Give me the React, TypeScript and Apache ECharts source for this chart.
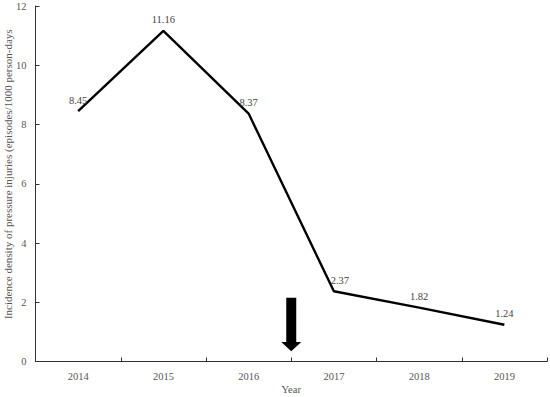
import React, { useEffect, useRef } from "react";
import * as echarts from "echarts";

const years = ["2014", "2015", "2016", "2017", "2018", "2019"];
const incidence = [8.45, 11.16, 8.37, 2.37, 1.82, 1.24];
const yTicks = [0, 2, 4, 6, 8, 10, 12];
const arrowBetween = ["2016", "2017"];

const FONT = "'Liberation Serif', 'DejaVu Serif', serif";

export default function App() {
  const ref = useRef<HTMLDivElement>(null);
  useEffect(() => {
    if (!ref.current) return;
    const chart = echarts.init(ref.current, undefined, { renderer: "svg" });
    const axisColor = "#333";
    chart.setOption({
      animation: false,
      backgroundColor: "#fff",
      textStyle: { fontFamily: FONT },
      grid: {
        left: 35.5,
        right: 3,
        top: 6,
        bottom: 35.5,
        containLabel: false,
        outerBoundsMode: "none",
      },
      xAxis: {
        type: "category",
        data: years,
        boundaryGap: true,
        name: "Year",
        nameLocation: "middle",
        nameGap: 22,
        nameMoveOverlap: false,
        nameTextStyle: { fontFamily: FONT, fontSize: 10.5, color: "#555" },
        axisLine: { lineStyle: { color: axisColor, width: 1.2 } },
        axisTick: { show: true, inside: true, length: 4, alignWithLabel: false, lineStyle: { color: axisColor } },
        axisLabel: { fontFamily: FONT, fontSize: 10.5, color: "#555", margin: 9 },
        splitLine: { show: false },
      },
      yAxis: {
        type: "value",
        min: yTicks[0],
        max: yTicks[yTicks.length - 1],
        interval: 2,
        name: "Incidence density of pressure injuries (episodes/1000 person-days",
        nameLocation: "middle",
        nameGap: 22.5,
        nameMoveOverlap: false,
        nameTextStyle: { fontFamily: FONT, fontSize: 11, color: "#555", padding: [0, 0, 0, 19] },
        axisLine: { show: true, lineStyle: { color: axisColor, width: 1 } },
        axisTick: { show: true, inside: true, length: 4, lineStyle: { color: axisColor } },
        axisLabel: { fontFamily: FONT, fontSize: 10.5, color: "#555", margin: 9 },
        splitLine: { show: false },
      },
      series: [
        {
          type: "line",
          data: incidence.map((v, i) =>
            i === 3 ? { value: v, label: { offset: [6, 0] } } : { value: v }
          ),
          symbol: "circle",
          symbolSize: 1,
          showSymbol: true,
          itemStyle: { color: "rgba(0,0,0,0)" },
          lineStyle: { color: "#000", width: 2.4 },
          label: {
            show: true,
            position: "top",
            distance: 5,
            fontFamily: FONT,
            fontSize: 10.5,
            color: "#444",
            formatter: (p: any) => Number(p.value).toFixed(2),
          },
        },
      ],
    });

    const a = chart.convertToPixel({ xAxisIndex: 0 }, arrowBetween[0]) as number;
    const b = chart.convertToPixel({ xAxisIndex: 0 }, arrowBetween[1]) as number;
    const cx = (a + b) / 2;
    const yTop = chart.convertToPixel({ yAxisIndex: 0 }, 2.15) as number;
    const yHeadStart = chart.convertToPixel({ yAxisIndex: 0 }, 0.66) as number;
    const yTip = chart.convertToPixel({ yAxisIndex: 0 }, 0.35) as number;
    chart.setOption({
      graphic: [
        {
          type: "polygon",
          shape: {
            points: [
              [cx - 5, yTop],
              [cx + 5, yTop],
              [cx + 5, yHeadStart],
              [cx + 10, yHeadStart],
              [cx, yTip],
              [cx - 10, yHeadStart],
              [cx - 5, yHeadStart],
            ],
          },
          style: { fill: "#000" },
        },
      ],
    });
    return () => chart.dispose();
  }, []);
  return <div ref={ref} style={{ width: 550, height: 397, position: "absolute", left: 0, top: 0 }} />;
}
